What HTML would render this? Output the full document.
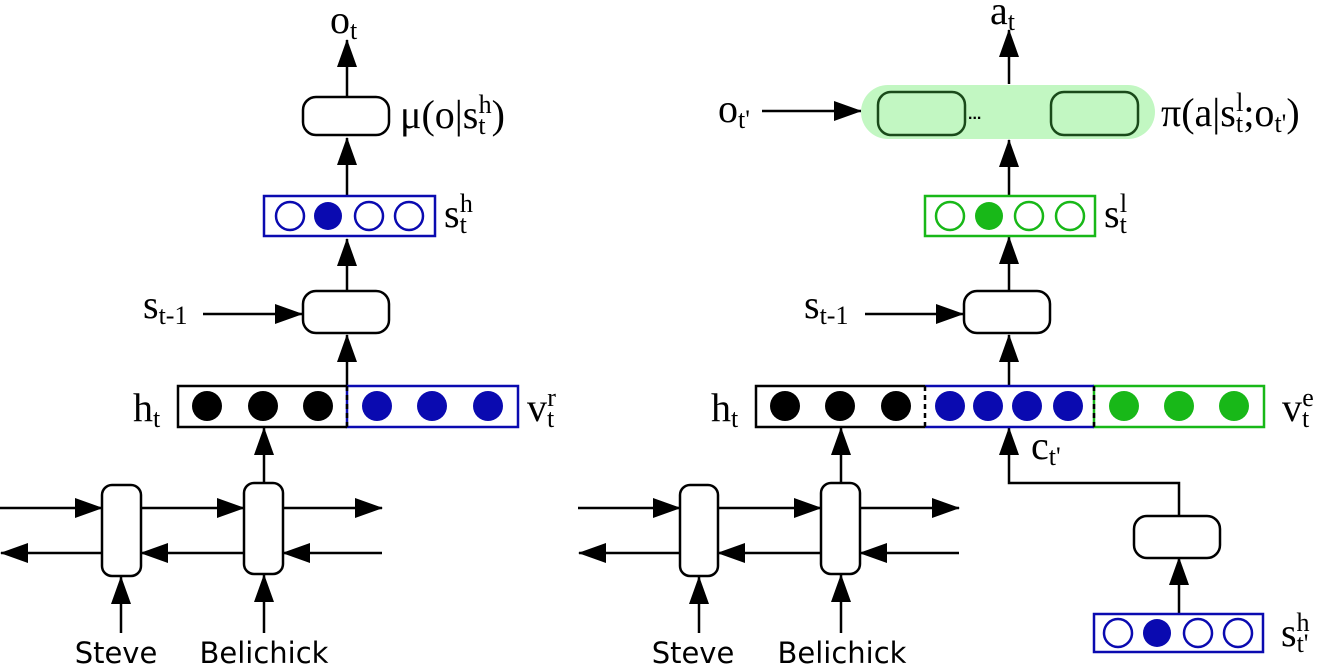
<!DOCTYPE html>
<html><head><meta charset="utf-8"><style>
html,body{margin:0;padding:0;background:#fff;}
svg{display:block;}
.m{font-family:"Liberation Serif",serif;font-size:40px;fill:#000;}
.s{font-size:26px;}
.w{font-family:"DejaVu Sans","Liberation Sans",sans-serif;font-size:29px;fill:#000;}
</style></head><body>
<svg width="1325" height="665" viewBox="0 0 1325 665">
<defs>
<marker id="ah" markerUnits="userSpaceOnUse" markerWidth="28" markerHeight="20" refX="27" refY="10" orient="auto">
<path d="M0,0 L28,10 L0,20 Z" fill="#000"/></marker>
</defs>
<g stroke="#000" stroke-width="2.5" fill="none" marker-end="url(#ah)">
<line x1="347" y1="97" x2="347" y2="40"/>
<line x1="347" y1="196" x2="347" y2="138"/>
<line x1="347" y1="291" x2="347" y2="239"/>
<line x1="347" y1="386" x2="347" y2="335"/>
<line x1="264" y1="484" x2="264" y2="428"/>
<line x1="203" y1="314" x2="302" y2="314"/>
<line x1="0" y1="508" x2="102" y2="508"/>
<line x1="141" y1="508" x2="244" y2="508"/>
<line x1="283" y1="508" x2="382" y2="508"/>
<line x1="102" y1="553" x2="1" y2="553"/>
<line x1="244" y1="553" x2="141" y2="553"/>
<line x1="382" y1="553" x2="283" y2="553"/>
<line x1="121" y1="633" x2="121" y2="577"/>
<line x1="264" y1="633" x2="264" y2="575"/>
<line x1="1009" y1="84" x2="1009" y2="30"/>
<line x1="1009" y1="196" x2="1009" y2="140"/>
<line x1="1009" y1="291" x2="1009" y2="237"/>
<line x1="1009" y1="386" x2="1009" y2="335"/>
<line x1="762" y1="111" x2="861" y2="111"/>
<line x1="865" y1="314" x2="963" y2="314"/>
<line x1="841" y1="484" x2="841" y2="428"/>
<polyline points="1179,516 1179,483 1009,483 1009,428"/>
<line x1="1179" y1="614" x2="1179" y2="558"/>
<line x1="578" y1="508" x2="680" y2="508"/>
<line x1="718" y1="508" x2="821" y2="508"/>
<line x1="860" y1="508" x2="959" y2="508"/>
<line x1="680" y1="553" x2="579" y2="553"/>
<line x1="821" y1="553" x2="718" y2="553"/>
<line x1="959" y1="553" x2="860" y2="553"/>
<line x1="699" y1="633" x2="699" y2="577"/>
<line x1="841" y1="633" x2="841" y2="575"/>
</g>
<g stroke="#000" stroke-width="2.5" fill="#fff">
<rect x="303" y="97" width="86" height="38" rx="13"/>
<rect x="303" y="291" width="86" height="42" rx="13"/>
<rect x="102" y="485" width="39" height="91" rx="10"/>
<rect x="244" y="483" width="39" height="91" rx="10"/>
<rect x="964" y="291" width="86" height="42" rx="13"/>
<rect x="680" y="485" width="38" height="91" rx="10"/>
<rect x="821" y="483" width="39" height="91" rx="10"/>
<rect x="1134" y="516" width="86" height="42" rx="13"/>
</g>
<rect x="861" y="85" width="294" height="54" rx="27" fill="#c2f7c2"/>
<rect x="878" y="92" width="87" height="43" rx="13" fill="none" stroke="#1a4a1a" stroke-width="2.5"/>
<rect x="1051" y="92" width="87" height="43" rx="13" fill="none" stroke="#1a4a1a" stroke-width="2.5"/>
<text x="968" y="119" font-family="Liberation Sans,sans-serif" font-size="16" font-weight="bold" fill="#000">...</text>
<g>
<rect x="264" y="196" width="171" height="40" fill="none" stroke="#0a0ab0" stroke-width="2.5"/>
<circle cx="290" cy="216" r="14" fill="none" stroke="#0a0ab0" stroke-width="2.5"/>
<circle cx="328" cy="216" r="14" fill="#0a0ab0"/>
<circle cx="369" cy="216" r="14" fill="none" stroke="#0a0ab0" stroke-width="2.5"/>
<circle cx="409" cy="216" r="14" fill="none" stroke="#0a0ab0" stroke-width="2.5"/>
</g>
<g>
<rect x="347" y="386" width="171" height="41" fill="none" stroke="#0a0ab0" stroke-width="2.5"/>
<path d="M347,386 H178 V427 H347" fill="none" stroke="#000" stroke-width="2.5"/>
<line x1="347" y1="386" x2="347" y2="427" stroke="#000" stroke-width="2.5" stroke-dasharray="5,4"/>
<circle cx="207" cy="406" r="15" fill="#000"/><circle cx="263" cy="406" r="15" fill="#000"/><circle cx="318" cy="406" r="15" fill="#000"/>
<circle cx="377" cy="406" r="15" fill="#0a0ab0"/><circle cx="432" cy="406" r="15" fill="#0a0ab0"/><circle cx="488" cy="406" r="15" fill="#0a0ab0"/>
</g>
<g>
<rect x="925" y="196" width="170" height="40" fill="none" stroke="#18b818" stroke-width="2.5"/>
<circle cx="950" cy="216" r="14" fill="none" stroke="#18b818" stroke-width="2.5"/>
<circle cx="989" cy="216" r="14" fill="#18b818"/>
<circle cx="1029" cy="216" r="14" fill="none" stroke="#18b818" stroke-width="2.5"/>
<circle cx="1070" cy="216" r="14" fill="none" stroke="#18b818" stroke-width="2.5"/>
</g>
<g>
<rect x="1094" y="386" width="170" height="41" fill="none" stroke="#18b818" stroke-width="2.5"/>
<path d="M925,386 H1094 M925,427 H1094" stroke="#0a0ab0" stroke-width="2.5"/>
<path d="M925,386 H756 V427 H925" fill="none" stroke="#000" stroke-width="2.5"/>
<line x1="925" y1="386" x2="925" y2="427" stroke="#000" stroke-width="2.5" stroke-dasharray="5,4"/>
<line x1="1094" y1="386" x2="1094" y2="427" stroke="#000" stroke-width="2.5" stroke-dasharray="5,4"/>
<circle cx="785" cy="406" r="15" fill="#000"/><circle cx="840" cy="406" r="15" fill="#000"/><circle cx="896" cy="406" r="15" fill="#000"/>
<circle cx="950" cy="406" r="15" fill="#0a0ab0"/><circle cx="988" cy="406" r="15" fill="#0a0ab0"/><circle cx="1027" cy="406" r="15" fill="#0a0ab0"/><circle cx="1068" cy="406" r="15" fill="#0a0ab0"/>
<circle cx="1124" cy="406" r="15" fill="#18b818"/><circle cx="1179" cy="406" r="15" fill="#18b818"/><circle cx="1234" cy="406" r="15" fill="#18b818"/>
</g>
<g>
<rect x="1094" y="614" width="169" height="38" fill="none" stroke="#0a0ab0" stroke-width="2.5"/>
<circle cx="1118" cy="633" r="14" fill="none" stroke="#0a0ab0" stroke-width="2.5"/>
<circle cx="1157" cy="633" r="14" fill="#0a0ab0"/>
<circle cx="1198" cy="633" r="14" fill="none" stroke="#0a0ab0" stroke-width="2.5"/>
<circle cx="1238" cy="633" r="14" fill="none" stroke="#0a0ab0" stroke-width="2.5"/>
</g>
<text class="m" x="330" y="33">o<tspan class="s" dy="6">t</tspan></text>
<text class="m" x="400" y="128">μ(o|s<tspan class="s" dy="6">t</tspan><tspan class="s" dx="-7" dy="-21">h</tspan><tspan dy="15">)</tspan></text>
<text class="m" x="444" y="227">s<tspan class="s" dy="6">t</tspan><tspan class="s" dx="-7" dy="-21">h</tspan></text>
<text class="m" x="143" y="318">s<tspan class="s" dy="6">t-1</tspan></text>
<text class="m" x="133" y="421">h<tspan class="s" dy="6">t</tspan></text>
<text class="m" x="527" y="421">v<tspan class="s" dy="6">t</tspan><tspan class="s" dx="-7" dy="-21">r</tspan></text>
<text class="w" x="116" y="663" text-anchor="middle">Steve</text>
<text class="w" x="264" y="663" text-anchor="middle">Belichick</text>
<text class="m" x="990" y="24">a<tspan class="s" dy="6">t</tspan></text>
<text class="m" x="718" y="122">o<tspan class="s" dy="6">t'</tspan></text>
<text class="m" x="1161" y="126">π(a|s<tspan class="s" dy="6">t</tspan><tspan class="s" dx="-7" dy="-21">l</tspan><tspan dy="15">;o</tspan><tspan class="s" dy="6">t'</tspan><tspan dy="-6">)</tspan></text>
<text class="m" x="1104" y="227">s<tspan class="s" dy="6">t</tspan><tspan class="s" dx="-7" dy="-21">l</tspan></text>
<text class="m" x="804" y="318">s<tspan class="s" dy="6">t-1</tspan></text>
<text class="m" x="711" y="421">h<tspan class="s" dy="6">t</tspan></text>
<text class="m" x="1282" y="421">v<tspan class="s" dy="6">t</tspan><tspan class="s" dx="-7" dy="-21">e</tspan></text>
<text class="m" x="1031" y="459">c<tspan class="s" dy="6">t'</tspan></text>
<text class="m" x="1281" y="646">s<tspan class="s" dy="6">t'</tspan><tspan class="s" dx="-12" dy="-21">h</tspan></text>
<text class="w" x="693" y="663" text-anchor="middle">Steve</text>
<text class="w" x="842" y="663" text-anchor="middle">Belichick</text>
</svg>
</body></html>
